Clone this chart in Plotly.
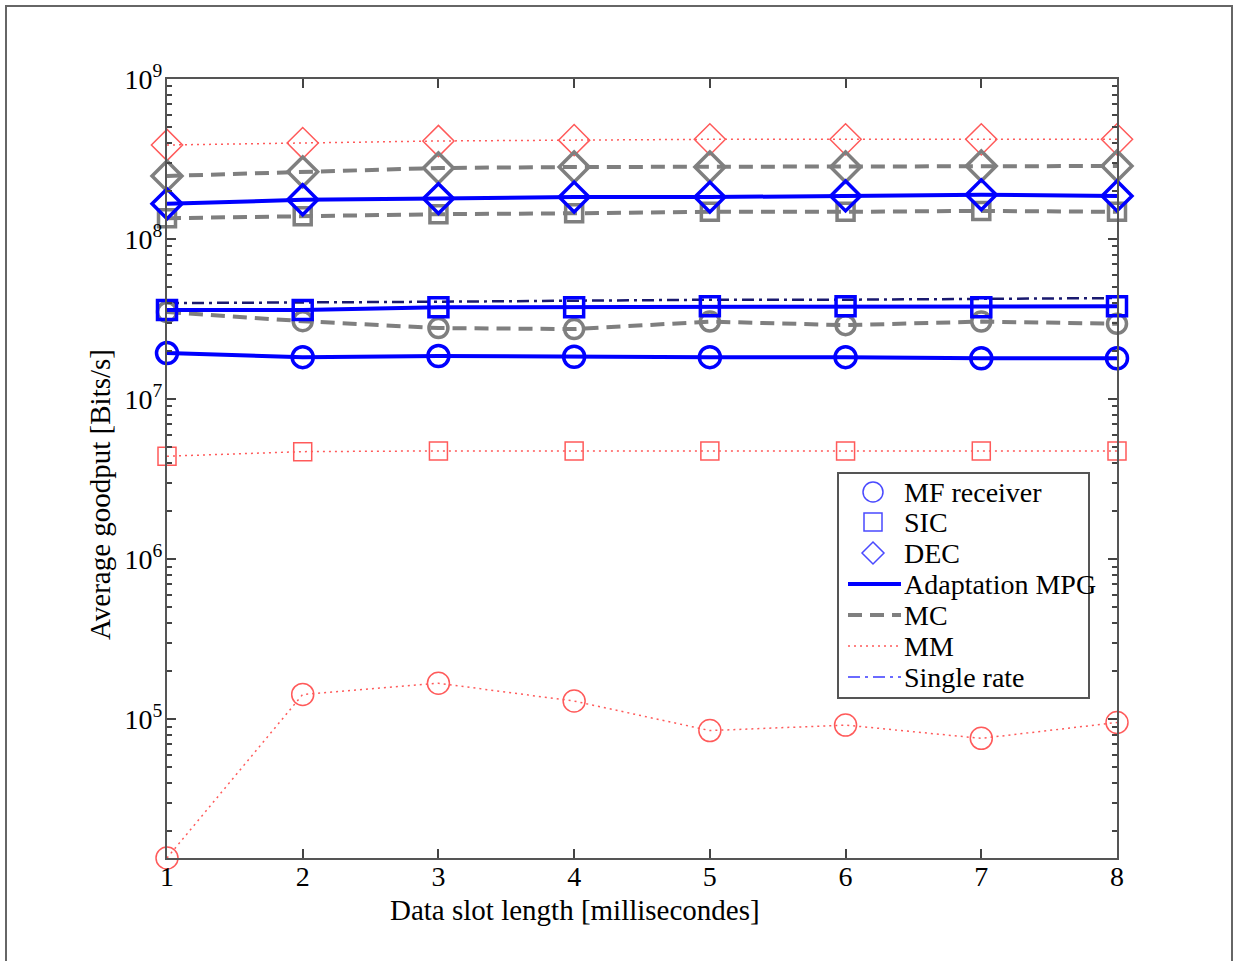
import plotly.graph_objects as go

x = [1, 2, 3, 4, 5, 6, 7, 8]

# Adaptation MPG (blue solid)
adapt_mf = [1.94e7, 1.83e7, 1.86e7, 1.84e7, 1.83e7, 1.83e7, 1.80e7, 1.80e7]
adapt_sic = [3.6e7, 3.6e7, 3.75e7, 3.75e7, 3.8e7, 3.8e7, 3.75e7, 3.8e7]
adapt_dec = [1.66e8, 1.76e8, 1.79e8, 1.83e8, 1.83e8, 1.86e8, 1.89e8, 1.86e8]
# MC (gray dashed)
mc_mf = [3.5e7, 3.07e7, 2.78e7, 2.74e7, 3.05e7, 2.9e7, 3.05e7, 2.96e7]
mc_sic = [1.35e8, 1.39e8, 1.43e8, 1.45e8, 1.48e8, 1.48e8, 1.50e8, 1.48e8]
mc_dec = [2.48e8, 2.63e8, 2.78e8, 2.82e8, 2.82e8, 2.82e8, 2.86e8, 2.86e8]
# MM (red dotted)
mm_mf = [1.36e4, 1.43e5, 1.68e5, 1.30e5, 8.5e4, 9.2e4, 7.6e4, 9.55e4]
mm_sic = [4.4e6, 4.7e6, 4.75e6, 4.75e6, 4.75e6, 4.75e6, 4.75e6, 4.75e6]
mm_dec = [3.87e8, 3.98e8, 4.1e8, 4.15e8, 4.2e8, 4.2e8, 4.2e8, 4.2e8]
# Single rate (dash-dot)
single_rate = [3.98e7, 4.0e7, 4.06e7, 4.12e7, 4.18e7, 4.18e7, 4.25e7, 4.28e7]

legend_names = ["MF receiver", "SIC", "DEC", "Adaptation MPG", "MC", "MM", "Single rate"]
y_tickvals = [1e5, 1e6, 1e7, 1e8, 1e9]
y_ticktext = ["10<sup>5</sup>", "10<sup>6</sup>", "10<sup>7</sup>", "10<sup>8</sup>", "10<sup>9</sup>"]
y_minor = [m * 10 ** k for k in range(4, 9) for m in range(2, 10)]
x_ticks = [1, 2, 3, 4, 5, 6, 7, 8]
x_title = "Data slot length [millisecondes]"
y_title = "Average goodput [Bits/s]"

BLUE = "#0000ff"
GRAY = "#7f7f7f"
RED = "#ff5a5a"
NAVY = "#1a1a70"
FONT = "Liberation Serif"

# plot-area pixel geometry (for decorations only)
L, R, T, B = 167, 1117, 79, 858
W, H = R - L, B - T
def px(v):
    return (v - L) / W
def py(v):
    return (B - v) / H

fig = go.Figure()

def add(y, color, width, dash, symbol, msize, mwidth):
    fig.add_trace(go.Scatter(
        x=x, y=y, mode="lines+markers", showlegend=False, cliponaxis=False,
        line=dict(color=color, width=width, dash=dash),
        marker=dict(symbol=symbol, size=msize, color=color,
                    line=dict(color=color, width=mwidth)),
    ))

DOT = "2px,4px"
DASH = "14px,8px"
DASHDOT = "12px,5px,3px,5px"

fig.add_trace(go.Scatter(x=x, y=single_rate, mode="lines", showlegend=False,
                         line=dict(color=NAVY, width=2.5, dash=DASHDOT)))

add(mm_mf, RED, 1.5, DOT, "circle-open", 22, 1.5)
add(mm_sic, RED, 1.5, DOT, "square-open", 18, 1.5)
add(mm_dec, RED, 1.5, DOT, "diamond-open", 24, 1.5)

add(mc_mf, GRAY, 4, DASH, "circle-open", 19, 3.5)
add(mc_sic, GRAY, 4, DASH, "square-open", 17, 3.5)
add(mc_dec, GRAY, 4, DASH, "diamond-open", 23, 3.5)

add(adapt_mf, BLUE, 4, "solid", "circle-open", 21, 3.5)
add(adapt_sic, BLUE, 4, "solid", "square-open", 19, 3.5)
add(adapt_dec, BLUE, 4, "solid", "diamond-open", 23, 3.5)

axis_common = dict(showline=True, linecolor="#555555", linewidth=2, mirror="ticks",
                   ticks="inside", tickcolor="#444444", tickwidth=1.5, showgrid=False,
                   zeroline=False, tickfont=dict(family=FONT, size=28, color="black"))

fig.update_xaxes(range=[1, 8], tickvals=x_ticks, ticklen=9, **axis_common)
fig.update_yaxes(type="log", range=[4.1335, 9], tickvals=y_tickvals, ticktext=y_ticktext,
                 ticklen=9,
                 minor=dict(ticks="inside", ticklen=5, tickcolor="#444444", tickwidth=1.5,
                            tickvals=y_minor, showgrid=False),
                 **axis_common)
try:
    fig.update_xaxes(ticklabelstandoff=-8)
    fig.update_yaxes(ticklabelstandoff=-3)
except Exception:
    pass

# ---- hand-drawn legend (MATLAB style) ----
shapes = [dict(type="rect", xref="paper", yref="paper",
               x0=(6 - L) / W, x1=(1232 - L) / W, y0=(B - 975) / H, y1=(B - 6) / H,
               line=dict(color="#666666", width=2), layer="below"),
          dict(type="rect", xref="paper", yref="paper",
               x0=px(838), x1=px(1089), y0=py(698), y1=py(473),
               fillcolor="white", line=dict(color="#555555", width=2), layer="above")]
annotations = [
    dict(text=x_title, xref="paper", yref="paper", x=px(575), y=py(910),
         xanchor="center", yanchor="middle", showarrow=False,
         font=dict(family=FONT, size=29, color="black")),
    dict(text=y_title, xref="paper", yref="paper", x=px(100), y=py(495),
         xanchor="center", yanchor="middle", showarrow=False, textangle=-90,
         font=dict(family=FONT, size=29, color="black")),
]
ys = [492, 522, 553, 584, 615, 646, 677]
LB = "#4a4aff"
mx = 873
r = 10
shapes.append(dict(type="circle", xref="paper", yref="paper",
                   x0=px(mx - r), x1=px(mx + r), y0=py(ys[0] + r), y1=py(ys[0] - r),
                   line=dict(color=LB, width=1.5)))
s = 9
shapes.append(dict(type="rect", xref="paper", yref="paper",
                   x0=px(mx - s), x1=px(mx + s), y0=py(ys[1] + s), y1=py(ys[1] - s),
                   line=dict(color=LB, width=1.5)))
d = 11
yc = ys[2]
shapes.append(dict(type="path", xref="paper", yref="paper",
                   path=f"M {px(mx)},{py(yc - d)} L {px(mx + d)},{py(yc)} L {px(mx)},{py(yc + d)} L {px(mx - d)},{py(yc)} Z",
                   line=dict(color=LB, width=1.5)))
line_styles = [(BLUE, 4, "solid"), (GRAY, 4, DASH), (RED, 1.5, DOT), ("#3a3aff", 1.5, DASHDOT)]
for (c, w, dsh), yv in zip(line_styles, ys[3:]):
    shapes.append(dict(type="line", xref="paper", yref="paper",
                       x0=px(848), x1=px(901), y0=py(yv), y1=py(yv),
                       line=dict(color=c, width=w, dash=dsh)))
for name, yv in zip(legend_names, ys):
    annotations.append(dict(text=name, xref="paper", yref="paper", x=px(902), y=py(yv),
                            xanchor="left", yanchor="middle", showarrow=False,
                            font=dict(family=FONT, size=28, color="black")))

fig.update_layout(
    width=1234, height=961,
    margin=dict(l=L, r=1234 - R, t=T, b=961 - B),
    paper_bgcolor="white", plot_bgcolor="white",
    showlegend=False,
    shapes=shapes,
    annotations=annotations,
)

fig.write_html("out.html", config={"displayModeBar": False},
               post_script="document.body.style.margin='0';document.body.style.overflow='hidden';")
